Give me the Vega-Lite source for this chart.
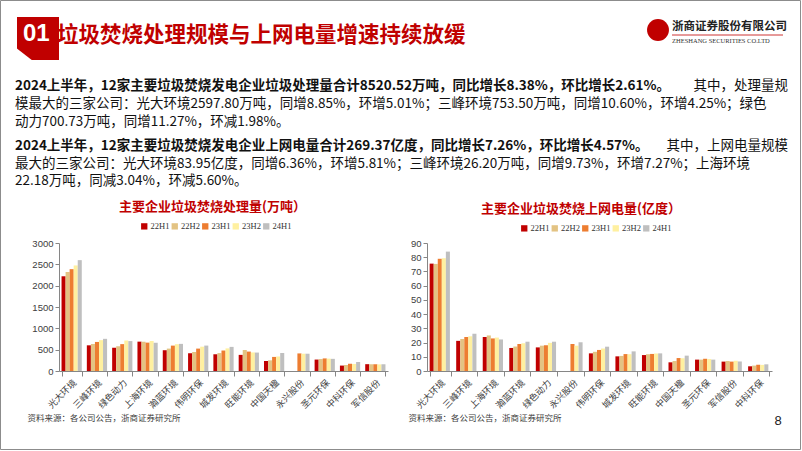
{
  "$schema": "https://vega.github.io/schema/vega-lite/v6.json",
  "padding": 0,
  "background": "white",
  "config": {"view": {"stroke": null}, "font": "Noto Sans CJK SC"},
  "datasets": {
    "treat": [
      {"c": "光大环境", "p": "22H1", "v": 2220}, {"c": "光大环境", "p": "22H2", "v": 2320}, {"c": "光大环境", "p": "23H1", "v": 2387}, {"c": "光大环境", "p": "23H2", "v": 2474}, {"c": "光大环境", "p": "24H1", "v": 2598},
      {"c": "三峰环境", "p": "22H1", "v": 602}, {"c": "三峰环境", "p": "22H2", "v": 632}, {"c": "三峰环境", "p": "23H1", "v": 681}, {"c": "三峰环境", "p": "23H2", "v": 723}, {"c": "三峰环境", "p": "24H1", "v": 754},
      {"c": "绿色动力", "p": "22H1", "v": 545}, {"c": "绿色动力", "p": "22H2", "v": 580}, {"c": "绿色动力", "p": "23H1", "v": 630}, {"c": "绿色动力", "p": "23H2", "v": 715}, {"c": "绿色动力", "p": "24H1", "v": 701},
      {"c": "上海环境", "p": "22H1", "v": 688}, {"c": "上海环境", "p": "22H2", "v": 686}, {"c": "上海环境", "p": "23H1", "v": 665}, {"c": "上海环境", "p": "23H2", "v": 703}, {"c": "上海环境", "p": "24H1", "v": 662},
      {"c": "瀚蓝环境", "p": "22H1", "v": 487}, {"c": "瀚蓝环境", "p": "22H2", "v": 525}, {"c": "瀚蓝环境", "p": "23H1", "v": 595}, {"c": "瀚蓝环境", "p": "23H2", "v": 628}, {"c": "瀚蓝环境", "p": "24H1", "v": 636},
      {"c": "伟明环保", "p": "22H1", "v": 416}, {"c": "伟明环保", "p": "22H2", "v": 445}, {"c": "伟明环保", "p": "23H1", "v": 525}, {"c": "伟明环保", "p": "23H2", "v": 570}, {"c": "伟明环保", "p": "24H1", "v": 596},
      {"c": "城发环境", "p": "22H1", "v": 392}, {"c": "城发环境", "p": "22H2", "v": 420}, {"c": "城发环境", "p": "23H1", "v": 480}, {"c": "城发环境", "p": "23H2", "v": 530}, {"c": "城发环境", "p": "24H1", "v": 565},
      {"c": "旺能环境", "p": "22H1", "v": 378}, {"c": "旺能环境", "p": "22H2", "v": 492}, {"c": "旺能环境", "p": "23H1", "v": 455}, {"c": "旺能环境", "p": "23H2", "v": 435}, {"c": "旺能环境", "p": "24H1", "v": 432},
      {"c": "中国天楹", "p": "22H1", "v": 234}, {"c": "中国天楹", "p": "22H2", "v": 250}, {"c": "中国天楹", "p": "23H1", "v": 330}, {"c": "中国天楹", "p": "23H2", "v": 340}, {"c": "中国天楹", "p": "24H1", "v": 422},
      {"c": "永兴股份", "p": "23H1", "v": 412}, {"c": "永兴股份", "p": "23H2", "v": 405}, {"c": "永兴股份", "p": "24H1", "v": 405},
      {"c": "圣元环保", "p": "22H1", "v": 268}, {"c": "圣元环保", "p": "22H2", "v": 280}, {"c": "圣元环保", "p": "23H1", "v": 295}, {"c": "圣元环保", "p": "23H2", "v": 290}, {"c": "圣元环保", "p": "24H1", "v": 285},
      {"c": "中科环保", "p": "22H1", "v": 127}, {"c": "中科环保", "p": "22H2", "v": 140}, {"c": "中科环保", "p": "23H1", "v": 170}, {"c": "中科环保", "p": "23H2", "v": 165}, {"c": "中科环保", "p": "24H1", "v": 211},
      {"c": "军信股份", "p": "22H1", "v": 160}, {"c": "军信股份", "p": "22H2", "v": 158}, {"c": "军信股份", "p": "23H1", "v": 158}, {"c": "军信股份", "p": "23H2", "v": 155}, {"c": "军信股份", "p": "24H1", "v": 158}
    ],
    "power": [
      {"c": "光大环境", "p": "22H1", "v": 75.5}, {"c": "光大环境", "p": "22H2", "v": 75.3}, {"c": "光大环境", "p": "23H1", "v": 78.9}, {"c": "光大环境", "p": "23H2", "v": 79.3}, {"c": "光大环境", "p": "24H1", "v": 83.95},
      {"c": "三峰环境", "p": "22H1", "v": 21.2}, {"c": "三峰环境", "p": "22H2", "v": 22.5}, {"c": "三峰环境", "p": "23H1", "v": 23.9}, {"c": "三峰环境", "p": "23H2", "v": 24.4}, {"c": "三峰环境", "p": "24H1", "v": 26.2},
      {"c": "上海环境", "p": "22H1", "v": 23.9}, {"c": "上海环境", "p": "22H2", "v": 25.0}, {"c": "上海环境", "p": "23H1", "v": 22.9}, {"c": "上海环境", "p": "23H2", "v": 23.5}, {"c": "上海环境", "p": "24H1", "v": 22.18},
      {"c": "瀚蓝环境", "p": "22H1", "v": 16.2}, {"c": "瀚蓝环境", "p": "22H2", "v": 17.2}, {"c": "瀚蓝环境", "p": "23H1", "v": 19.0}, {"c": "瀚蓝环境", "p": "23H2", "v": 19.5}, {"c": "瀚蓝环境", "p": "24H1", "v": 20.6},
      {"c": "绿色动力", "p": "22H1", "v": 16.6}, {"c": "绿色动力", "p": "22H2", "v": 17.8}, {"c": "绿色动力", "p": "23H1", "v": 18.1}, {"c": "绿色动力", "p": "23H2", "v": 19.8}, {"c": "绿色动力", "p": "24H1", "v": 20.6},
      {"c": "永兴股份", "p": "23H1", "v": 19.0}, {"c": "永兴股份", "p": "23H2", "v": 17.8}, {"c": "永兴股份", "p": "24H1", "v": 20.2},
      {"c": "伟明环保", "p": "22H1", "v": 12.4}, {"c": "伟明环保", "p": "22H2", "v": 13.5}, {"c": "伟明环保", "p": "23H1", "v": 14.8}, {"c": "伟明环保", "p": "23H2", "v": 15.8}, {"c": "伟明环保", "p": "24H1", "v": 17.1},
      {"c": "城发环境", "p": "22H1", "v": 10.3}, {"c": "城发环境", "p": "22H2", "v": 10.6}, {"c": "城发环境", "p": "23H1", "v": 11.9}, {"c": "城发环境", "p": "23H2", "v": 11.8}, {"c": "城发环境", "p": "24H1", "v": 13.8},
      {"c": "旺能环境", "p": "22H1", "v": 11.2}, {"c": "旺能环境", "p": "22H2", "v": 11.8}, {"c": "旺能环境", "p": "23H1", "v": 12.0}, {"c": "旺能环境", "p": "23H2", "v": 12.3}, {"c": "旺能环境", "p": "24H1", "v": 12.4},
      {"c": "中国天楹", "p": "22H1", "v": 6.1}, {"c": "中国天楹", "p": "22H2", "v": 7.0}, {"c": "中国天楹", "p": "23H1", "v": 9.1}, {"c": "中国天楹", "p": "23H2", "v": 9.0}, {"c": "中国天楹", "p": "24H1", "v": 10.8},
      {"c": "圣元环保", "p": "22H1", "v": 8.0}, {"c": "圣元环保", "p": "22H2", "v": 8.0}, {"c": "圣元环保", "p": "23H1", "v": 8.6}, {"c": "圣元环保", "p": "23H2", "v": 8.4}, {"c": "圣元环保", "p": "24H1", "v": 8.0},
      {"c": "军信股份", "p": "22H1", "v": 6.6}, {"c": "军信股份", "p": "22H2", "v": 7.0}, {"c": "军信股份", "p": "23H1", "v": 6.6}, {"c": "军信股份", "p": "23H2", "v": 7.2}, {"c": "军信股份", "p": "24H1", "v": 6.7},
      {"c": "中科环保", "p": "22H1", "v": 3.3}, {"c": "中科环保", "p": "22H2", "v": 3.8}, {"c": "中科环保", "p": "23H1", "v": 4.4}, {"c": "中科环保", "p": "23H2", "v": 4.3}, {"c": "中科环保", "p": "24H1", "v": 4.7}
    ]
  },
  "columns": 2,
  "bounds": "flush",
  "align": "each",
  "spacing": {"column": 39, "row": 242},
  "resolve": {"scale": {"color": "independent"}, "legend": {"color": "independent"}},
  "concat": [
    {
      "width": 1,
      "height": 1,
      "data": {"values": [{}]},
      "layer": [
        {"mark": {"type": "rect", "fill": "transparent", "stroke": "#8c8c8c", "strokeWidth": 1},
         "encoding": {"x": {"value": -58.5}, "x2": {"value": 741.5}, "y": {"value": 0.5}, "y2": {"value": 449.5}}},
        {"mark": {"type": "rect", "fill": "#C00000"},
         "encoding": {"x": {"value": -42}, "x2": {"value": 0}, "y": {"value": 17}, "y2": {"value": 60}}},
        {"mark": {"type": "point", "filled": true, "fill": "white", "opacity": 1, "strokeWidth": 0, "size": 225, "shape": "M-1.1,-0.6L1.05,1.05L-1.1,1.05Z"},
         "encoding": {"x": {"value": -34.5}, "y": {"value": 52.5}}},
        {"mark": {"type": "text", "text": "01", "font": "Liberation Sans", "fontSize": 24, "fontWeight": "bold", "color": "white", "align": "center", "baseline": "alphabetic"},
         "encoding": {"x": {"value": -22.7}, "y": {"value": 41}}},
        {"mark": {"type": "text", "text": "垃圾焚烧处理规模与上网电量增速持续放缓", "font": "Noto Sans CJK SC", "fontSize": 21.5, "fontWeight": "bold", "color": "#C00000", "align": "left", "baseline": "middle"},
         "encoding": {"x": {"value": -2}, "y": {"value": 36}}},
        {"mark": {"type": "point", "filled": true, "fill": "#C00000", "opacity": 1, "strokeWidth": 0, "size": 480, "shape": "circle"},
         "encoding": {"x": {"value": 599}, "y": {"value": 30}}},
        {"mark": {"type": "text", "text": "浙商证券股份有限公司", "font": "Noto Sans CJK SC", "fontSize": 11.5, "fontWeight": "bold", "color": "#222222", "align": "left", "baseline": "middle"},
         "encoding": {"x": {"value": 613}, "y": {"value": 27}}},
        {"mark": {"type": "rule", "color": "#C00000", "strokeWidth": 0.8},
         "encoding": {"x": {"value": 613}, "x2": {"value": 724}, "y": {"value": 35}}},
        {"mark": {"type": "text", "text": "ZHESHANG SECURITIES CO.LTD", "font": "Liberation Serif", "fontSize": 6.5, "color": "#333333", "align": "left", "baseline": "middle"},
         "encoding": {"x": {"value": 613}, "y": {"value": 40.5}}},
        {"mark": {"type": "text", "text": "2024上半年，12家主要垃圾焚烧发电企业垃圾处理量合计8520.52万吨，同比增长8.38%，环比增长2.61%。", "font": "Noto Sans CJK SC", "fontSize": 13.5, "fontWeight": "bold", "color": "#111111", "align": "left", "baseline": "middle"},
         "encoding": {"x": {"value": -44}, "y": {"value": 86}}},
        {"mark": {"type": "text", "text": "其中，处理量规", "font": "Noto Sans CJK SC", "fontSize": 13.5, "color": "#111111", "align": "right", "baseline": "middle"},
         "encoding": {"x": {"value": 729}, "y": {"value": 86}}},
        {"mark": {"type": "text", "text": ["模最大的三家公司：光大环境2597.80万吨，同增8.85%，环增5.01%；三峰环境753.50万吨，同增10.60%，环增4.25%；绿色", "动力700.73万吨，同增11.27%，环减1.98%。"], "lineHeight": 17.5, "font": "Noto Sans CJK SC", "fontSize": 13.5, "color": "#111111", "align": "left", "baseline": "middle"},
         "encoding": {"x": {"value": -44}, "y": {"value": 104}}},
        {"mark": {"type": "text", "text": "2024上半年，12家主要垃圾焚烧发电企业上网电量合计269.37亿度，同比增长7.26%，环比增长4.57%。", "font": "Noto Sans CJK SC", "fontSize": 13.5, "fontWeight": "bold", "color": "#111111", "align": "left", "baseline": "middle"},
         "encoding": {"x": {"value": -44}, "y": {"value": 146}}},
        {"mark": {"type": "text", "text": "其中，上网电量规模", "font": "Noto Sans CJK SC", "fontSize": 13.5, "color": "#111111", "align": "right", "baseline": "middle"},
         "encoding": {"x": {"value": 729}, "y": {"value": 146}}},
        {"mark": {"type": "text", "text": ["最大的三家公司：光大环境83.95亿度，同增6.36%，环增5.81%；三峰环境26.20万吨，同增9.73%，环增7.27%；上海环境", "22.18万吨，同减3.04%，环减5.60%。"], "lineHeight": 17.5, "font": "Noto Sans CJK SC", "fontSize": 13.5, "color": "#111111", "align": "left", "baseline": "middle"},
         "encoding": {"x": {"value": -44}, "y": {"value": 163.5}}},
        {"mark": {"type": "text", "text": "8", "font": "Liberation Sans", "fontSize": 13, "color": "#222222", "align": "center", "baseline": "middle"},
         "encoding": {"x": {"value": 719}, "y": {"value": 420.5}}}
      ]
    },
    {
      "width": 1,
      "height": 1,
      "data": {"values": [{}]},
      "mark": {"type": "rect", "fillOpacity": 0, "strokeWidth": 0},
      "encoding": {"x": {"value": 0}, "x2": {"value": 1}, "y": {"value": 0}, "y2": {"value": 1}}
    },
    {
      "width": 329,
      "height": 128,
      "data": {"name": "treat"},
      "title": {"text": "主要企业垃圾焚烧处理量(万吨）", "color": "#C00000", "font": "Noto Sans CJK SC", "fontSize": 13, "fontWeight": "bold", "frame": "group", "anchor": "middle", "offset": 8.5, "dx": -11},
      "mark": {"type": "bar"},
      "encoding": {
        "x": {"field": "c", "type": "nominal", "sort": null,
              "scale": {"paddingInner": 0.2, "paddingOuter": 0.1},
              "axis": {"title": "资料来源：各公司公告，浙商证券研究所", "titleFont": "Noto Sans CJK SC", "titleFontSize": 8.5, "titleFontWeight": "normal", "titleColor": "#404040", "titleX": -32, "titleY": 46, "titleAlign": "left", "titleBaseline": "middle", "titleAngle": 0,
                       "labelAngle": -45, "labelFont": "Noto Sans CJK SC", "labelFontSize": 9, "labelColor": "#404040", "labelPadding": 2,
                       "tickBand": "extent", "domainColor": "#868686", "tickColor": "#868686", "tickSize": 5}},
        "xOffset": {"field": "p", "type": "nominal", "scale": {"domain": ["22H1", "22H2", "23H1", "23H2", "24H1"], "paddingInner": 0, "paddingOuter": 0}},
        "y": {"field": "v", "type": "quantitative", "scale": {"domain": [0, 3000], "nice": false},
              "axis": {"title": null, "format": "d", "values": [0, 500, 1000, 1500, 2000, 2500, 3000], "grid": false, "labelFont": "Liberation Sans", "labelFontSize": 9.5, "labelColor": "#404040", "labelPadding": 2, "domainColor": "#868686", "tickColor": "#868686", "tickSize": 4}},
        "color": {"field": "p", "type": "nominal",
                  "scale": {"domain": ["22H1", "22H2", "23H1", "23H2", "24H1"], "range": ["#C00000", "#E3C383", "#ED7D31", "#FFF0A0", "#BFBFBF"]},
                  "legend": {"title": null, "orient": "none", "legendX": 81, "legendY": -21, "direction": "horizontal", "symbolType": "square", "symbolSize": 40, "symbolStrokeWidth": 0, "labelFont": "Liberation Serif", "labelFontSize": 8.5, "labelColor": "#333333", "labelOffset": 2, "columnPadding": 0.5}}
      }
    },
    {
      "width": 345,
      "height": 128,
      "data": {"name": "power"},
      "title": {"text": "主要企业垃圾焚烧上网电量(亿度）", "color": "#C00000", "font": "Noto Sans CJK SC", "fontSize": 13, "fontWeight": "bold", "frame": "group", "anchor": "middle", "offset": 8.5, "dx": -18.5},
      "mark": {"type": "bar"},
      "encoding": {
        "x": {"field": "c", "type": "nominal", "sort": null,
              "scale": {"paddingInner": 0.2, "paddingOuter": 0.1},
              "axis": {"title": "资料来源：各公司公告，浙商证券研究所", "titleFont": "Noto Sans CJK SC", "titleFontSize": 8.5, "titleFontWeight": "normal", "titleColor": "#404040", "titleX": -19, "titleY": 46, "titleAlign": "left", "titleBaseline": "middle", "titleAngle": 0,
                       "labelAngle": -45, "labelFont": "Noto Sans CJK SC", "labelFontSize": 9, "labelColor": "#404040", "labelPadding": 2,
                       "tickBand": "extent", "domainColor": "#868686", "tickColor": "#868686", "tickSize": 5}},
        "xOffset": {"field": "p", "type": "nominal", "scale": {"domain": ["22H1", "22H2", "23H1", "23H2", "24H1"], "paddingInner": 0, "paddingOuter": 0}},
        "y": {"field": "v", "type": "quantitative", "scale": {"domain": [0, 90], "nice": false},
              "axis": {"title": null, "format": "d", "values": [0, 10, 20, 30, 40, 50, 60, 70, 80, 90], "grid": false, "labelFont": "Liberation Sans", "labelFontSize": 9.5, "labelColor": "#404040", "labelPadding": 2, "domainColor": "#868686", "tickColor": "#868686", "tickSize": 4}},
        "color": {"field": "p", "type": "nominal",
                  "scale": {"domain": ["22H1", "22H2", "23H1", "23H2", "24H1"], "range": ["#C00000", "#E3C383", "#ED7D31", "#FFF0A0", "#BFBFBF"]},
                  "legend": {"title": null, "orient": "none", "legendX": 93, "legendY": -19, "direction": "horizontal", "symbolType": "square", "symbolSize": 40, "symbolStrokeWidth": 0, "labelFont": "Liberation Serif", "labelFontSize": 8.5, "labelColor": "#333333", "labelOffset": 2, "columnPadding": 0.5}}
      }
    }
  ]
}
